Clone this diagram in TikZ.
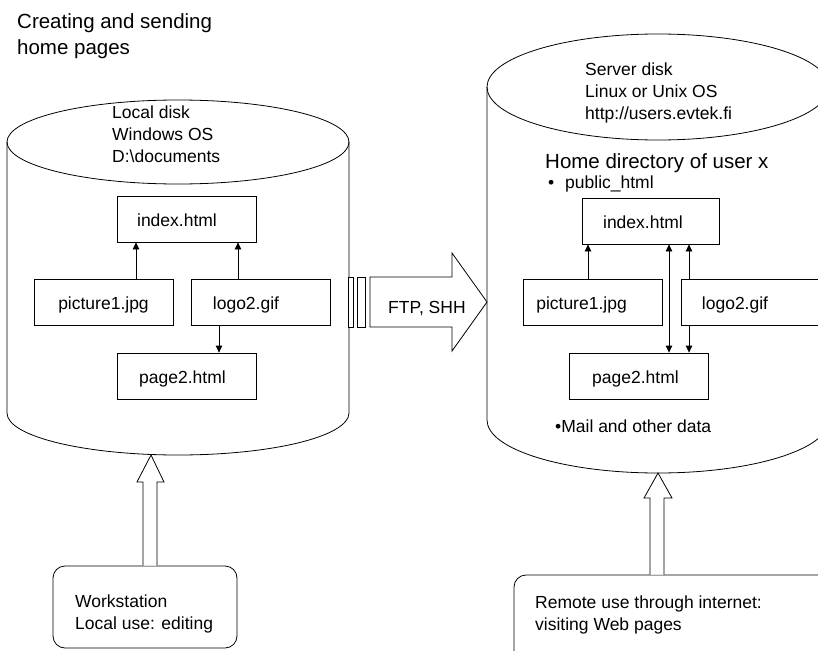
\documentclass[tikz,border=0pt]{standalone}
\usepackage{fontspec}
\setmainfont{Liberation Sans}
\usetikzlibrary{arrows.meta}
\newcommand\fsn{\fontsize{17.5}{22}\selectfont}
\newcommand\fsbig{\fontsize{20.5}{26}\selectfont}
\begin{document}
\begin{tikzpicture}[x=1pt,y=-1pt,
  ln/.style={line width=0.8pt},
  box/.style={draw,line width=0.8pt,minimum width=139pt,minimum height=46pt,inner sep=0pt,
    text height=14pt,text depth=0pt,font=\fsn},
  rbox/.style={draw,line width=0.8pt,rounded corners=12pt,inner sep=0pt},
  txt/.style={inner sep=0pt,font=\fsn,align=left},
  arr/.style={line width=0.8pt,-{Triangle[length=7pt,width=6.5pt]}},
  arrb/.style={line width=0.8pt,{Triangle[length=7pt,width=6.5pt]}-{Triangle[length=7pt,width=6.5pt]}},
  blk/.style={line width=0.8pt,fill=white}]
\useasboundingbox (0,0) rectangle (818,650);
\clip (0,0) rectangle (818,650);
\fill[white] (0,0) rectangle (818,650);

% title
\node[txt,font=\fsbig,anchor=north west] (title) at (17,13) {Creating and sending\\home pages};

% left cylinder
\draw[ln] (7,142) -- (7,413) arc[start angle=180,end angle=0,x radius=171,y radius=42] -- (349,142);
\draw[ln] (178,142) ellipse[x radius=171,y radius=42];
\coordinate (lbot) at (151,455);
\node[txt,anchor=north west] (ldisk) at (112,105.2) {Local disk\\Windows OS\\D:\textbackslash documents};

% right cylinder
\draw[ln] (487,87) -- (487,420) arc[start angle=180,end angle=0,x radius=171,y radius=53] -- (829,87);
\draw[ln] (658,87) ellipse[x radius=171,y radius=53];
\coordinate (rbot) at (658,473);
\coordinate (rwall) at (487,302);
\node[txt,anchor=north west] (rdisk) at (585,62.2) {Server disk\\Linux or Unix OS\\http://users.evtek.fi};
\node[txt,font=\fsbig,anchor=base west] (home) at (545,168) {Home directory of user x};
\node[txt,anchor=base west] (pub) at (548,188) {\makebox[17pt][l]{•}public\_html};
\node[txt,anchor=base west] (mail) at (555,432) {•Mail and other data};

% left boxes
\node[box] (lidx) at (186.5,219) {index.html\hspace*{19pt}};
\node[box] (lpic) at (103.5,302) {picture1.jpg};
\node[box] (llogo) at (260.5,302) {logo2.gif\hspace*{29pt}};
\node[box] (lpage) at (186.5,376) {page2.html\hspace*{8pt}};
\draw[arr] (136,0 |- lpic.north) -- (136,0 |- lidx.south);
\draw[arr] (238,0 |- llogo.north) -- (238,0 |- lidx.south);
\draw[arr] (219,0 |- llogo.south) -- (219,0 |- lpage.north);

% right boxes
\node[box,minimum width=137pt] (ridx) at (650.5,221) {index.html\hspace*{15pt}};
\node[box] (rpic) at (592.5,302) {picture1.jpg\hspace*{22pt}};
\node[box,minimum width=150pt] (rlogo) at (756,302) {logo2.gif\hspace*{42pt}};
\node[box] (rpage) at (638.5,376) {page2.html\hspace*{6pt}};
\draw[arr] (588,0 |- rpic.north) -- (588,0 |- ridx.south);
\draw[arrb] (669,0 |- ridx.south) -- (669,0 |- rpage.north);
\draw[arr] (689,0 |- rlogo.north) -- (689,0 |- ridx.south);
\draw[arr] (689,0 |- rlogo.south) -- (689,0 |- rpage.north);

% FTP striped block arrow
\draw[blk] (348,277) rectangle (353,327);
\draw[blk] (357,277) rectangle (365,327);
\draw[blk] (370,277) -- (452,277) -- (452,253) -- (rwall) -- (452,351) -- (452,327) -- (370,327) -- cycle;
\node[txt,anchor=base west] (ftp) at (388,313) {FTP, SHH};

% bottom boxes
\node[rbox,minimum width=184pt,minimum height=82pt] (ws) at (145,607) {};
\node[txt,anchor=north west] (wstxt) at (75,594.2) {Workstation\\Local use: editing};
\node[rbox,minimum width=316pt,minimum height=95pt] (rem) at (672,622.5) {};
\node[txt,anchor=north west] (remtxt) at (535,595.2) {Remote use through internet:\\visiting Web pages};

% up block arrows
\draw[blk] (157,0 |- ws.north) -- (157,482) -- (164,482) -- (lbot) -- (137,482) -- (143,482) -- (143,0 |- ws.north);
\draw[blk] (664,0 |- rem.north) -- (664,498) -- (672,498) -- (rbot) -- (644,498) -- (650,498) -- (650,0 |- rem.north);
\end{tikzpicture}
\end{document}
